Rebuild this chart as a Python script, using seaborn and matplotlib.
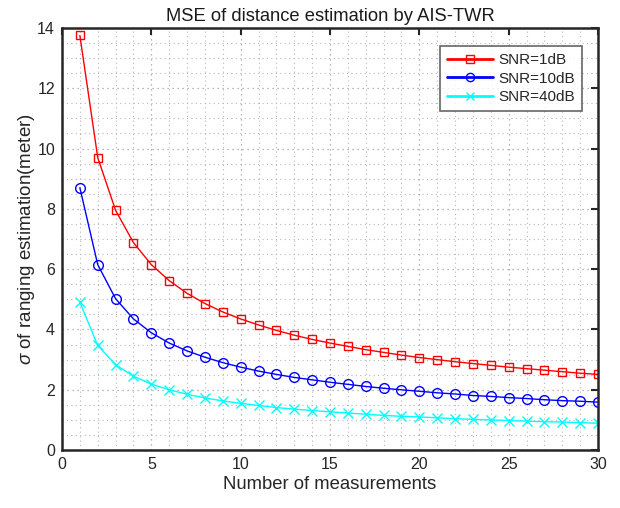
import matplotlib
matplotlib.use("Agg")
import matplotlib.pyplot as plt
import seaborn as sns
import numpy as np
import pandas as pd
from matplotlib.ticker import MultipleLocator

n_meas = list(range(1, 31))
snr1 = [13.75, 9.7, 7.95, 6.88, 6.15, 5.62, 5.2, 4.86, 4.58, 4.35, 4.15, 3.97, 3.81, 3.67, 3.55,
        3.44, 3.33, 3.24, 3.15, 3.07, 3.0, 2.93, 2.87, 2.81, 2.75, 2.7, 2.65, 2.6, 2.55, 2.51]
snr10 = [8.7, 6.15, 5.02, 4.35, 3.89, 3.55, 3.29, 3.08, 2.9, 2.75, 2.62, 2.51, 2.41, 2.33, 2.25,
         2.18, 2.11, 2.05, 2.0, 1.95, 1.9, 1.86, 1.81, 1.78, 1.74, 1.71, 1.67, 1.64, 1.62, 1.59]
snr40 = [4.9, 3.47, 2.83, 2.45, 2.19, 2.0, 1.85, 1.73, 1.63, 1.55, 1.48, 1.41, 1.36, 1.31, 1.27,
         1.23, 1.19, 1.15, 1.12, 1.1, 1.07, 1.04, 1.02, 1.0, 0.98, 0.96, 0.94, 0.93, 0.91, 0.89]
labels = ["SNR=1dB", "SNR=10dB", "SNR=40dB"]
colors = ["#ff0000", "#0000ff", "#00ffff"]
markers = ["s", "o", "x"]
msizes = [6, 7, 6.5]

sns.set_style("white")
plt.rcParams['font.family'] = ['Liberation Sans', 'DejaVu Sans']
plt.rcParams['mathtext.fontset'] = 'custom'
plt.rcParams['mathtext.it'] = 'Liberation Sans:italic'

fig = plt.figure(figsize=(6.2, 5.08), dpi=100)
ax = fig.add_axes([0.1, 0.114, 0.8645, 0.831])

for vals, lab, col, mk, ms in zip([snr1, snr10, snr40], labels, colors, markers, msizes):
    df = pd.DataFrame({"n": n_meas, "v": vals})
    kw = dict(marker=mk, markersize=ms, markeredgewidth=1.0, color=col, linewidth=1.0, label=lab,
              markeredgecolor=col)
    if mk != "x":
        kw["markerfacecolor"] = "none"
    sns.lineplot(data=df, x="n", y="v", ax=ax, **kw)

ax.set_xlim(0, 30)
ax.set_ylim(0, 14)
ax.xaxis.set_major_locator(MultipleLocator(5))
ax.xaxis.set_minor_locator(MultipleLocator(1))
ax.yaxis.set_major_locator(MultipleLocator(2))
ax.yaxis.set_minor_locator(MultipleLocator(0.5))
ax.grid(True, which='major', linestyle=(0, (1, 3)), color='#a0a0a0', linewidth=0.9)
ax.grid(True, which='minor', linestyle=(0, (1, 3)), color='#b8b8b8', linewidth=0.8)
ax.tick_params(which='major', direction='in', length=5, width=1.5, top=True, right=True,
               labelsize=11.5, colors='#262626', pad=5)
ax.tick_params(which='minor', length=0)
for s in ax.spines.values():
    s.set_linewidth(1.8)
    s.set_color('#262626')

ax.set_title("MSE of distance estimation by AIS-TWR", fontsize=13.2, color='#1a1a1a', pad=5)
ax.set_xlabel("Number of measurements", fontsize=13.3, color='#262626', labelpad=3)
ax.set_ylabel(r"$\it{\sigma}$ of ranging estimation(meter)", fontsize=13.5, color='#262626', labelpad=0)

leg = ax.legend(loc='upper right', bbox_to_anchor=(0.985, 0.975), fontsize=11, frameon=True,
                fancybox=False, edgecolor='#404040', handlelength=3.0, borderpad=0.45,
                labelspacing=0.3, handletextpad=0.4, markerscale=0.85)
leg.get_frame().set_linewidth(1.2)
for ln in leg.get_lines():
    ln.set_linewidth(2.0)

fig.savefig("out.png", dpi=100)
